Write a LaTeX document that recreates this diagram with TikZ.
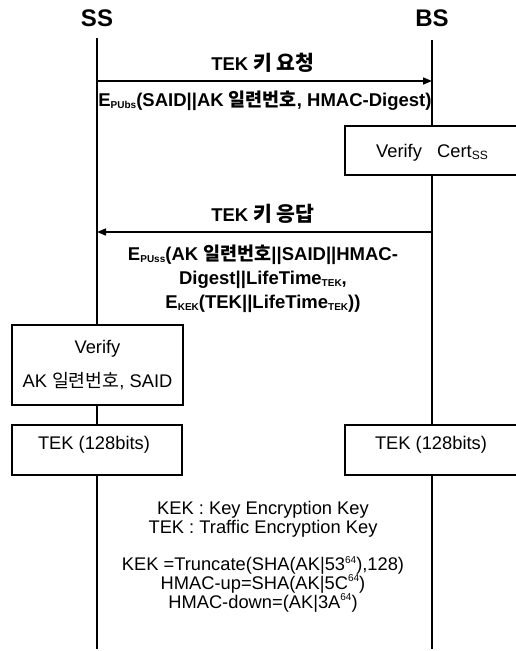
\documentclass[tikz,border=0pt]{standalone}
\usepackage{fontspec}
\setmainfont{Liberation Sans}
\newfontfamily\kr{Noto Sans CJK KR}
\usetikzlibrary{arrows.meta}
\newcommand{\ko}[1]{{\kr #1}}
\newcommand{\kobig}[1]{{\kr\fontsize{20.5}{24}\selectfont #1}}
\newcommand{\lo}[1]{\raisebox{-2pt}{\fontsize{10}{10}\selectfont #1}}
\newcommand{\hi}[1]{\raisebox{7.5pt}{\fontsize{10}{10}\selectfont #1}}
\tikzset{
  title/.style={font=\bfseries\fontsize{24}{26}\selectfont, inner sep=0pt},
  life/.style={line width=2.2pt},
  msg/.style={line width=1.6pt, -{Triangle[length=9pt,width=7pt]}},
  msgtext/.style={font=\bfseries\fontsize{18.5}{24}\selectfont, inner sep=0pt, align=center},
  plain/.style={font=\fontsize{18.3}{18.8}\selectfont, inner sep=0pt, align=center},
  stepbox/.style={draw, line width=1.2pt, fill=white, font=\fontsize{18.3}{22}\selectfont, align=center, inner sep=0pt},
}
\begin{document}
\begin{tikzpicture}[x=1pt,y=-1pt]
\useasboundingbox (0,0) rectangle (516,651);
% heads
\node[title] (ss) at (97,18) {SS};
\node[title] (bs) at (432,18) {BS};
\coordinate (sstop) at (97,38);
\coordinate (bstop) at (432,40);
\coordinate (ssend) at (97,649);
\coordinate (bsend) at (432,649);
\draw[life] (sstop) -- (ssend);
\draw[life] (bstop) -- (bsend);
% message 1
\coordinate (m1s) at (97,81);
\coordinate (m1e) at (432,81);
\draw[msg] (m1s) -- (m1e);
\node[msgtext] (m1lab) at (263,63) {TEK \kobig{키 요청}};
\node[msgtext] (m1body) at (265,101) {E\lo{PUbs}(SAID||AK \ko{일련번호}, HMAC-Digest)};
% verify cert
\node[stepbox, minimum width=172, minimum height=49] (vcert) at (431,150.5) {};
\node[plain] (vcertt) at (432,153) {Verify\ \ \ Cert\lo{\fontsize{12}{12}\selectfont SS}};
% message 2
\coordinate (m2s) at (432,232);
\coordinate (m2e) at (97,232);
\draw[msg] (m2s) -- (m2e);
\node[msgtext] (m2lab) at (263,214) {TEK \kobig{키 응답}};
\node[msgtext] (m2body) at (263,279) {E\lo{PUss}(AK \ko{일련번호}||SAID||HMAC-\\Digest||LifeTime\lo{TEK},\\E\lo{KEK}(TEK||LifeTime\lo{TEK}))};
% verify SS
\node[stepbox, minimum width=171, minimum height=80] (vss) at (97.5,365) {Verify\\[12pt]AK \ko{일련번호}, SAID};
% TEK boxes
\node[stepbox, minimum width=170, minimum height=50] (tekl) at (97,450) {};
\node[stepbox, minimum width=172, minimum height=50] (tekr) at (431,450) {};
\node[plain] (teklt) at (94,445) {TEK (128bits)};
\node[plain] (tekrt) at (431,445) {TEK (128bits)};
% notes
\node[plain] (legend) at (263,519) {KEK : Key Encryption Key\\TEK : Traffic Encryption Key};
\node[plain] (formulas) at (263,584) {KEK =Truncate(SHA(AK|53\hi{64}),128)\\HMAC-up=SHA(AK|5C\hi{64})\\HMAC-down=(AK|3A\hi{64})};
\end{tikzpicture}
\end{document}
